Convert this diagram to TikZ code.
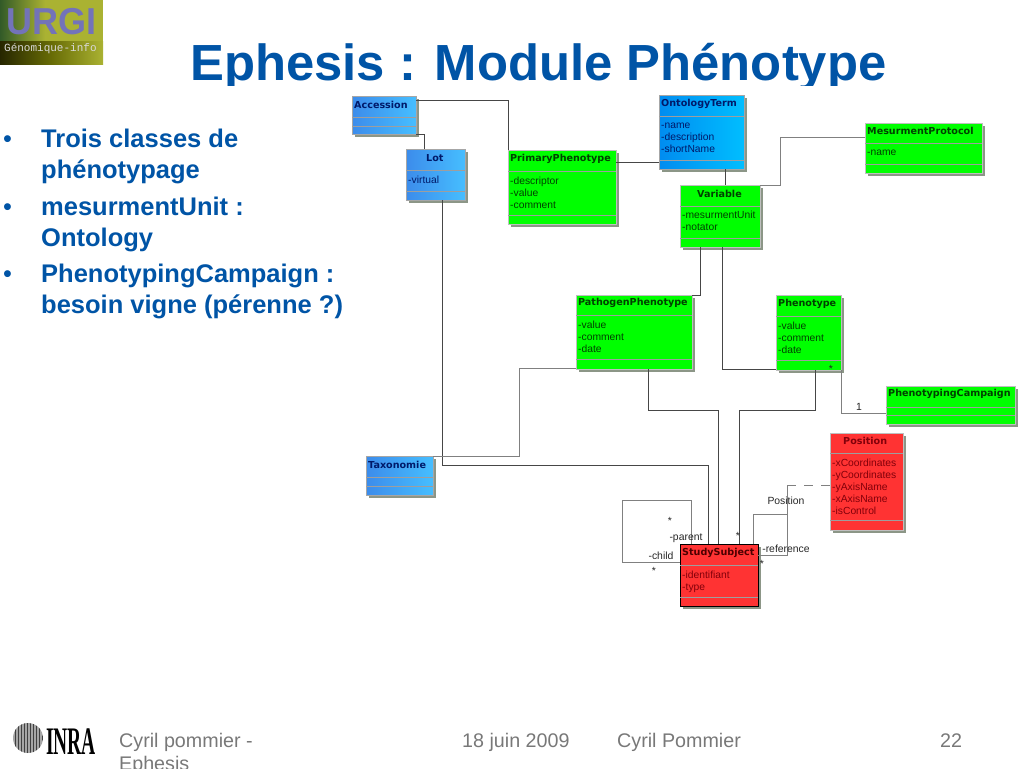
\documentclass[tikz,border=0pt]{standalone}
\usepackage{fontspec}
\setmainfont{Liberation Sans}
\newfontfamily\umlfont{DejaVu Sans}
\newfontfamily\monofont{Liberation Mono}
\usetikzlibrary{shadows, patterns}

\definecolor{slideblue}{RGB}{0,84,166}
\definecolor{footgray}{RGB}{120,120,120}
\definecolor{linegray}{RGB}{70,70,70}
\definecolor{blueink}{RGB}{0,25,105}
\definecolor{greenink}{RGB}{0,65,0}
\definecolor{redink}{RGB}{130,0,10}
\definecolor{lotleft}{RGB}{60,140,235}
\definecolor{lotright}{RGB}{70,190,255}
\definecolor{ontoleft}{RGB}{0,140,240}
\definecolor{ontoright}{RGB}{0,190,255}
\definecolor{urgiblue}{RGB}{115,115,185}
\definecolor{leafgreen}{RGB}{170,178,50}
\definecolor{leafdark}{RGB}{50,90,40}
\definecolor{shadowgray}{RGB}{140,150,135}

\tikzset{
  umlbox/.style={anchor=north west, inner sep=0pt, outer sep=0pt,
    drop shadow={shadow xshift=3pt, shadow yshift=-3pt, fill=shadowgray, opacity=1}},
  bluebox/.style={umlbox, left color=lotleft, right color=lotright, draw=black!35},
  skybox/.style={umlbox, left color=ontoleft, right color=ontoright, draw=black!35},
  greenbox/.style={umlbox, fill=green, draw=black!25},
  redbox/.style={umlbox, fill=red!80!white, draw=black!25},
  studybox/.style={umlbox, fill=red!80!white, draw=black, line width=0.9pt},
  divider/.style={black!38, line width=0.8pt},
  classname/.style={anchor=west, inner sep=0pt, font=\umlfont\bfseries\fontsize{9.6}{11}\selectfont},
  classattr/.style={anchor=north west, inner sep=0pt, align=left, yshift=-3pt, font=\fontsize{10.3}{12}\selectfont},
  assoc/.style={linegray, line width=0.9pt},
  assocl/.style={black!50, line width=1pt},
  rolelabel/.style={inner sep=0pt, text=black!85, font=\fontsize{10.4}{12}\selectfont},
  bulletitem/.style={anchor=base west, inner sep=0pt, text=slideblue, font=\bfseries\fontsize{25.5}{30}\selectfont},
  bulletdot/.style={anchor=base west, inner sep=0pt, text=slideblue, font=\fontsize{25.3}{30}\selectfont},
  footitem/.style={anchor=base west, inner sep=0pt, text=footgray, font=\fontsize{19.7}{23}\selectfont}
}

% box + its two compartment lines: name, style, x1, y1, x2, y2, line 1, line 2
\newcommand{\classbox}[8]{%
  \node[#2, minimum width={(#5-#3)*1pt}, minimum height={(#6-#4)*1pt}] (#1) at (#3,#4) {};
  \draw[divider] (#3,#7) -- (#5,#7);
  \draw[divider] (#3,#8) -- (#5,#8);
}

\begin{document}
\begin{tikzpicture}[x=1pt,y=-1pt]
\useasboundingbox (0,0) rectangle (1024,768);

% --- Logo URGI
\fill[leafgreen] (0,0) rectangle (103,64);
\shade[left color=leafdark, right color=leafgreen] (0,0) rectangle (45,42);
\shade[left color=black!70!olive, right color=leafgreen] (0,42) rectangle (103,64);
\node[anchor=base west, inner sep=0pt, xscale=0.96, text=urgiblue, font=\bfseries\fontsize{37.5}{37}\selectfont] (urgi) at (6,35) {URGI};
\node[anchor=base west, inner sep=0pt, text=black!15, font=\monofont\fontsize{11}{11}\selectfont] (urgisub) at (4,52) {Génomique-info};

% --- Titolo
\begin{scope}
\clip (0,0) rectangle (1024,85);
\node[anchor=base west, inner sep=0pt, text=slideblue, font=\bfseries\fontsize{50.8}{55}\selectfont] (title) at (190,81) {Ephesis : Module Phénotype};
\end{scope}

% --- Bullets
\node[bulletdot] (bulleta) at (3,147) {•};
\node[bulletitem] (linea) at (41,147) {Trois classes de};
\node[bulletitem] (lineb) at (41,178) {phénotypage};
\node[bulletdot] (bulletb) at (3,215) {•};
\node[bulletitem] (linec) at (41,215) {mesurmentUnit :};
\node[bulletitem] (lined) at (41,246) {Ontology};
\node[bulletdot] (bulletc) at (3,282) {•};
\node[bulletitem] (linee) at (41,282) {PhenotypingCampaign :};
\node[bulletitem] (linef) at (41,313) {besoin vigne (pérenne ?)};

% --- Classi
\classbox{accession}{bluebox}{352}{96}{416}{134}{117}{126}
\classbox{lot}{bluebox}{406}{149}{465}{200}{170}{191}
\classbox{taxonomie}{bluebox}{366}{456}{433}{495}{477}{486}
\classbox{ontology}{skybox}{659}{95}{744}{169}{116}{160}
\classbox{primary}{greenbox}{508}{150}{616}{224}{171}{215}
\classbox{variable}{greenbox}{680}{185}{760}{247}{206}{238}
\classbox{protocol}{greenbox}{865}{123}{982}{173}{143}{164}
\classbox{pathogen}{greenbox}{576}{295}{692}{369}{315}{359}
\classbox{phenotype}{greenbox}{776}{295}{841}{370}{316}{360}
\classbox{campaign}{greenbox}{886}{386}{1015}{424}{407}{415}
\classbox{position}{redbox}{830}{433}{903}{530}{453}{520}
\classbox{study}{studybox}{680}{544}{758}{606}{565}{597}

% --- Testi delle classi
\node[classname, text=blueink] (accessionname) at (354,105) {Accession};
\node[classname, text=blueink] (lotname) at (426,158) {Lot};
\node[classattr, text=blueink] (lotattr) at (408,173) {-virtual};
\node[classname, text=blueink] (taxonomiename) at (368,465) {Taxonomie};
\node[classname, text=blueink] (ontologyname) at (661,104) {OntologyTerm};
\node[classattr, text=blueink] (ontologyattr) at (661,120) {-name\\-description\\-shortName};
\node[classname, text=greenink] (primaryname) at (510,159) {PrimaryPhenotype};
\node[classattr, text=greenink] (primaryattr) at (510,174) {-descriptor\\-value\\-comment};
\node[classname, text=greenink] (variablename) at (697,194) {Variable};
\node[classattr, text=greenink] (variableattr) at (682,208) {-mesurmentUnit\\-notator};
\node[classname, text=greenink] (protocolname) at (867,131) {MesurmentProtocol};
\node[classattr, text=greenink] (protocolattr) at (867,147) {-name};
\node[classname, text=greenink] (pathogenname) at (578,303) {PathogenPhenotype};
\node[classattr, text=greenink] (pathogenattr) at (578,318) {-value\\-comment\\-date};
\node[classname, text=greenink] (phenotypename) at (778,304) {Phenotype};
\node[classattr, text=greenink] (phenotypeattr) at (778,319) {-value\\-comment\\-date};
\node[classname, text=greenink] (campaignname) at (888,394) {PhenotypingCampaign};
\node[classname, text=redink] (positionname) at (843,441) {Position};
\node[classattr, text=redink] (positionattr) at (832,456) {-xCoordinates\\-yCoordinates\\-yAxisName\\-xAxisName\\-isControl};
\node[classname, text=black!70!red] (studyname) at (682,553) {StudySubject};
\node[classattr, text=redink] (studyattr) at (682,568) {-identifiant\\-type};

% --- Associazioni
\draw[assoc] (accession.north east |- 0,100) -| (primary.north west);
\draw[assoc] (accession.south east) -| (lot.north -| 424,0);
\draw[assoc] (lot.south -| 442,0) |- (708,465) -- (study.north -| 708,0);
\draw[assoc] (primary.east |- 0,162) -- (ontology.west |- 0,162);
\draw[assoc] (ontology.south -| 725,0) -- (variable.north -| 725,0);
\draw[assocl] (variable.north east) -| (780,137) -- (protocol.west |- 0,137);
\draw[assoc] (variable.south -| 700,0) |- (pathogen.north east);
\draw[assoc] (variable.south -| 722,0) |- (phenotype.west |- 0,369);
\draw[assocl] (pathogen.west |- 0,368) -| (519,456) -- (taxonomie.north east);
\draw[assoc] (pathogen.south -| 648,0) |- (718,410) -- (study.north -| 718,0);
\draw[assoc] (phenotype.south -| 815,0) |- (739,410) -- (study.north -| 739,0);
\draw[assocl] (phenotype.south east) |- (campaign.west |- 0,413);

% --- Associazioni di StudySubject
\draw[assocl] (study.north -| 691,0) |- (622,500) |- (study.west |- 0,562);
\draw[assocl] (study.north -| 753,0) |- (787,514) |- (study.east |- 0,555);
\draw[assocl] (787,514) -- (787,485);
\draw[assocl, dash pattern=on 9pt off 8pt] (787,485) -- (position.west |- 0,485);

% --- Etichette
\node[rolelabel] (one) at (859,407) {1};
\node[rolelabel] (starphen) at (831,369) {*};
\node[rolelabel] (posname) at (786,501) {Position};
\node[rolelabel] (reference) at (786,549) {-reference};
\node[rolelabel] (parent) at (686,538) {-parent};
\node[rolelabel] (child) at (661,556) {-child};
\node[rolelabel] (starparent) at (670,521) {*};
\node[rolelabel] (starchild) at (654,571) {*};
\node[rolelabel] (starsub) at (738,536) {*};
\node[rolelabel] (starref) at (762,564) {*};

% --- Logo INRA
\fill[black!35] (28,738) circle (15);
\fill[pattern=vertical lines, pattern color=black!75] (28,738) circle (15);
\node[anchor=base west, inner sep=0pt, xscale=0.5, font=\fontspec{Liberation Serif}\bfseries\fontsize{39}{39}\selectfont] (inra) at (46,754) {INRA};

% --- Piede
\node[footitem] (foota) at (119,747) {Cyril pommier -};
\node[footitem] (footb) at (119,770) {Ephesis};
\node[footitem] (footc) at (462,747) {18 juin 2009};
\node[footitem] (footd) at (617,747) {Cyril Pommier};
\node[footitem] (foote) at (940,747) {22};
\end{tikzpicture}
\end{document}
